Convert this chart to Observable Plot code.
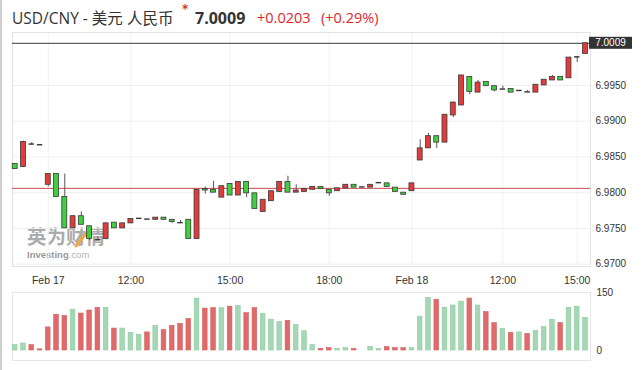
<!DOCTYPE html>
<html><head><meta charset="utf-8">
<script src="https://cdn.jsdelivr.net/npm/d3@7"></script>
<script src="https://cdn.jsdelivr.net/npm/@observablehq/plot@0.6"></script>
<style>
body{margin:0;background:#fff;}
#wrap{position:relative;width:641px;height:370px;overflow:hidden;background:#fff;}
.abs{position:absolute;white-space:nowrap;}
#border{left:0;top:0;width:2px;height:370px;background:#cfcfcf;}
.t{font-family:"Open Sans","Noto Sans CJK SC",sans-serif;line-height:20px;top:8px;}
#name{left:12px;font-size:15.5px;color:#333;}
#star{left:182px;top:3px;font-size:12px;line-height:12px;font-weight:bold;color:#e03030;font-family:"DejaVu Sans",sans-serif;}
#last{left:195px;font-size:16px;font-weight:bold;color:#333;}
#chg{left:257px;font-size:14.5px;color:#e0262b;}
#pct{left:321px;font-size:14.5px;color:#e0262b;}
#wm1{left:27px;top:226px;font-family:"Noto Sans CJK SC",sans-serif;font-size:19.5px;line-height:20px;font-weight:bold;color:#ababab;}
#wmslash{left:0;top:0;}
#wm3{left:27px;top:250px;font-family:"Liberation Sans",Arial,sans-serif;font-size:9.5px;line-height:10px;font-weight:bold;color:#999;}
#wm3 span{font-weight:normal;color:#b0b0b0;}
#price{left:0;top:31px;}
#vol{left:0;top:283px;}
</style>
</head><body>
<div id="wrap">
  <div class="abs" id="border"></div>
  <div class="abs t" id="name">USD/CNY - 美元 人民币</div>
  <div class="abs" id="star">*</div>
  <div class="abs t" id="last"></div>
  <div class="abs t" id="chg"></div>
  <div class="abs t" id="pct"></div>
  <div class="abs" id="wm1">英为财情</div>
  <svg class="abs" id="wmslash" width="641" height="370"><path d="M76,246 L87,232" stroke="#f2a640" stroke-width="3" stroke-linecap="round" fill="none"/></svg>
  <div class="abs" id="wm3">Investing<span>.com</span></div>
  <div class="abs" id="price"></div>
  <div class="abs" id="vol"></div>
</div>
<script>
// ---- data (15-minute candles, Feb 17 – Feb 18) ----
const open  = [6.9840,6.9836,6.9868,6.9867,6.9811,6.9826,6.9794,6.9750,6.9767,6.9753,
               6.9734,6.9735,6.9758,6.9750,6.9757,6.9764,6.9763,6.9762,6.9765,6.9762,
               6.9758,6.9762,6.9735,6.9805,6.9804,6.9793,6.9812,6.9796,6.9815,6.9799,
               6.9773,6.9788,6.9801,6.9815,6.9800,6.9801,6.9804,6.9808,6.9804,6.9802,
               6.9806,6.9811,6.9808,6.9807,6.9814,6.9813,6.9807,6.9800,6.9802,6.9845,
               6.9862,6.9879,6.9870,6.9908,6.9922,6.9962,6.9940,6.9955,6.9949,6.9945,
               6.9945,6.9943,6.9941,6.9940,6.9950,6.9957,6.9962,6.9960,6.9990,6.9994];
const high  = [6.9840,6.9872,6.9870,6.9867,6.9826,6.9826,6.9826,6.9768,6.9773,6.9753,
               6.9738,6.9757,6.9758,6.9757,6.9763,6.9764,6.9763,6.9765,6.9765,6.9762,
               6.9761,6.9762,6.9804,6.9808,6.9816,6.9809,6.9812,6.9815,6.9815,6.9799,
               6.9790,6.9802,6.9815,6.9823,6.9811,6.9805,6.9808,6.9808,6.9804,6.9806,
               6.9811,6.9811,6.9808,6.9811,6.9814,6.9813,6.9807,6.9800,6.9813,6.9874,
               6.9883,6.9879,6.9909,6.9927,6.9964,6.9962,6.9957,6.9955,6.9949,6.9949,
               6.9945,6.9943,6.9943,6.9951,6.9958,6.9964,6.9962,6.9989,6.9990,7.0010];
const low   = [6.9833,6.9835,6.9867,6.9866,6.9808,6.9794,6.9750,6.9750,6.9755,6.9733,
               6.9734,6.9734,6.9750,6.9750,6.9757,6.9764,6.9763,6.9762,6.9762,6.9757,
               6.9758,6.9735,6.9735,6.9798,6.9800,6.9793,6.9796,6.9796,6.9793,6.9777,
               6.9773,6.9788,6.9801,6.9800,6.9800,6.9801,6.9804,6.9805,6.9795,6.9802,
               6.9806,6.9807,6.9808,6.9807,6.9814,6.9808,6.9801,6.9797,6.9802,6.9845,
               6.9862,6.9862,6.9870,6.9905,6.9922,6.9937,6.9940,6.9949,6.9941,6.9945,
               6.9940,6.9943,6.9941,6.9940,6.9950,6.9957,6.9957,6.9960,6.9982,6.9994];
const close = [6.9833,6.9871,6.9868,6.9867,6.9826,6.9794,6.9750,6.9767,6.9755,6.9735,
               6.9734,6.9757,6.9750,6.9757,6.9763,6.9764,6.9763,6.9765,6.9762,6.9759,
               6.9758,6.9735,6.9804,6.9803,6.9800,6.9809,6.9796,6.9815,6.9799,6.9777,
               6.9790,6.9802,6.9815,6.9800,6.9803,6.9805,6.9808,6.9805,6.9799,6.9806,
               6.9811,6.9807,6.9808,6.9811,6.9814,6.9808,6.9801,6.9797,6.9813,6.9862,
               6.9879,6.9870,6.9909,6.9926,6.9964,6.9941,6.9954,6.9949,6.9943,6.9945,
               6.9940,6.9943,6.9941,6.9951,6.9958,6.9962,6.9957,6.9989,6.9990,7.0009];
const volume = [14,18,14,3,60,93,90,106,96,104,
                111,111,57,57,46,41,47,64,53,64,
                69,82,135,109,110,110,114,116,97,110,
                95,80,74,77,66,50,14,4,6,4,
                6,4,0,9,4,9,6,6,6,88,
                137,132,111,117,127,135,117,100,71,56,
                46,47,43,51,61,80,71,111,114,85];
const closeBefore = 6.9830;      // close of the bar preceding the first one
const prevClose = 6.9806;        // previous session close
const lastPrice = 7.0009;
const change = 0.0203;
const changePct = 0.29;
const xTickIndex  = [4, 14, 26, 38, 48, 59, 68];
const xTickLabels = ["Feb 17", "12:00", "15:00", "18:00", "Feb 18", "12:00", "15:00"];
const priceTicks = [6.9700, 6.9750, 6.9800, 6.9850, 6.9900, 6.9950];
const volTicks = [0, 150];

// ---- header text ----
document.getElementById("last").textContent = lastPrice.toFixed(4);
document.getElementById("chg").textContent = "+" + change.toFixed(4);
document.getElementById("pct").textContent = "(+" + changePct.toFixed(2) + "%)";

// ---- table built from the arrays ----
const bars = open.map((o, i) => ({
  i, o, h: high[i], l: low[i], c: close[i], v: volume[i],
  up: close[i] > (i ? close[i - 1] : closeBefore)
}));
const dojis = bars.filter(d => d.o === d.c);

const xScale = {type: "linear", domain: [0, open.length - 1], range: [14.7, 585], axis: null};
const font = "'Liberation Sans', Arial, sans-serif";

const price = Plot.plot({
  width: 641, height: 258,
  marginLeft: 12, marginRight: 51, marginTop: 1, marginBottom: 23,
  style: {background: "transparent", overflow: "visible", fontFamily: font, fontSize: "10px", color: "#333"},
  x: xScale,
  y: {domain: [6.97, lastPrice], range: [232.6, 11.8], axis: null},
  marks: [
    Plot.gridY(priceTicks, {stroke: "#efefef", strokeOpacity: 1}),
    Plot.gridX(xTickIndex, {stroke: "#f2f2f2", strokeOpacity: 1}),
    Plot.frame({stroke: "#e2e2e2"}),
    Plot.ruleY([prevClose], {stroke: "#c94848", strokeWidth: 1}),
    Plot.ruleY([lastPrice], {stroke: "#3a3a3a", strokeWidth: 1}),
    Plot.ruleX(bars, {x: "i", y1: "l", y2: "h", stroke: "#555", strokeWidth: 1}),
    Plot.rect(bars.filter(d => d.o !== d.c), {
      x1: d => d.i - 0.3, x2: d => d.i + 0.3,
      y1: d => Math.min(d.o, d.c), y2: d => Math.max(d.o, d.c),
      fill: d => d.c > d.o ? "#e23b3b" : "#3fcf3f",
      stroke: "#3a3a3a", strokeWidth: 0.8
    }),
    Plot.ruleY(dojis, {y: "c", x1: d => d.i - 0.33, x2: d => d.i + 0.33, stroke: "#333", strokeWidth: 1.4}),
    Plot.axisY(priceTicks, {anchor: "right", tickSize: 0, tickPadding: 5, label: null,
      tickFormat: d => d.toFixed(4), fontSize: 10}),
    Plot.axisX(xTickIndex, {anchor: "bottom", tickSize: 0, tickPadding: 10, label: null,
      tickFormat: d => xTickLabels[xTickIndex.indexOf(d)], fontSize: 10.5})
  ]
});
// current-price badge on the right axis, placed with the plot's own y scale
{
  const yy = price.scale("y").apply(lastPrice);
  const g = d3.select(price).append("g");
  g.append("rect").attr("x", 589).attr("y", yy - 6).attr("width", 43).attr("height", 12).attr("fill", "#333");
  g.append("text").attr("x", 610.5).attr("y", yy).attr("dy", "0.35em").attr("text-anchor", "middle")
    .attr("fill", "#fff").attr("font-size", 10).attr("font-family", font).text(lastPrice.toFixed(4));
}
document.getElementById("price").appendChild(price);

const vol = Plot.plot({
  width: 641, height: 79,
  marginLeft: 12, marginRight: 51, marginTop: 9, marginBottom: 2,
  style: {background: "transparent", overflow: "visible", fontFamily: font, fontSize: "10px", color: "#333"},
  x: xScale,
  y: {domain: [0, 150], range: [67, 9.3], axis: null},
  marks: [
    Plot.frame({stroke: "#e6e6e6"}),
    Plot.rect(bars.filter(d => d.v > 0), {
      x1: d => d.i - 0.28, x2: d => d.i + 0.28, y1: 0, y2: "v",
      fill: d => d.up ? "#a4d8b4" : "#e06a6a",
      stroke: d => d.up ? "#8ec9a0" : "#d55d5d", strokeWidth: 0.6
    }),
    Plot.axisY(volTicks, {anchor: "right", tickSize: 0, tickPadding: 6, label: null, fontSize: 10})
  ]
});
document.getElementById("vol").appendChild(vol);
</script>
</body></html>
